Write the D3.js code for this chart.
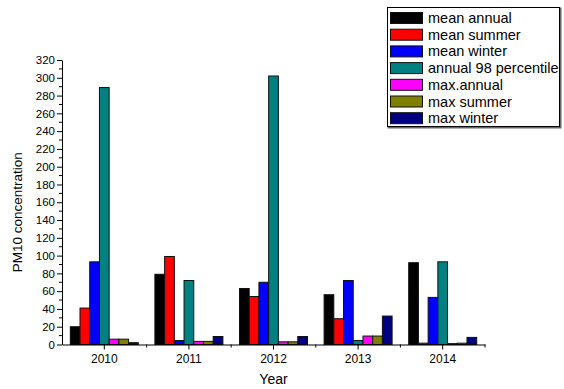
<!DOCTYPE html>
<html>
<head>
<meta charset="utf-8">
<script src="https://cdn.jsdelivr.net/npm/d3@7/dist/d3.min.js"></script>
<style>
  html, body { margin: 0; padding: 0; background: #fff; }
  svg { display: block; font-family: "Liberation Sans", Arial, sans-serif; }
</style>
</head>
<body>
<svg id="chart" width="564" height="389"></svg>
<script>
// PM10 concentration by year, seven statistics per year
const years = ["2010", "2011", "2012", "2013", "2014"];
const seriesNames = ["mean annual", "mean summer", "mean winter", "annual 98 percentile",
                     "max.annual", "max summer", "max winter"];
const seriesColors = ["#000000", "#ff0000", "#0000ff", "#008080", "#ff00ff", "#808000", "#000080"];

const meanAnnual   = [20, 79, 63, 56, 92];
const meanSummer   = [41, 99, 54, 29, 1.5];
const meanWinter   = [93, 4.5, 70, 72, 53];
const annual98     = [289, 72, 302, 4.5, 93];
const maxAnnual    = [6, 3.5, 3, 9.5, 1];
const maxSummer    = [6, 3.5, 3, 9.5, 1.5];
const maxWinter    = [2, 9, 9, 32, 8];

const yTicks = d3.range(0, 321, 20);

const seriesValues = [meanAnnual, meanSummer, meanWinter, annual98, maxAnnual, maxSummer, maxWinter];

const svg = d3.select("#chart");

const plotLeft = 62, plotRight = 485, plotTop = 60, plotBottom = 344.5;

const x = d3.scaleBand().domain(years).range([plotLeft, plotRight]).padding(0);
const inner = d3.scaleBand().domain(seriesNames)
  .range([8.3, x.bandwidth() - 8.3]).padding(0);
const y = d3.scaleLinear().domain([0, 320]).range([plotBottom, plotTop]);

// bars
const groups = svg.append("g").selectAll("g")
  .data(years)
  .join("g")
  .attr("transform", d => `translate(${x(d)},0)`);

groups.selectAll("rect")
  .data((yr, i) => seriesNames.map((s, k) => ({ s, k, v: seriesValues[k][i] })))
  .join("rect")
  .attr("x", d => inner(d.s))
  .attr("width", inner.bandwidth())
  .attr("y", d => y(d.v))
  .attr("height", d => y(0) - y(d.v))
  .attr("fill", d => seriesColors[d.k])
  .attr("stroke", "#111")
  .attr("stroke-width", 1);

// y axis with minor ticks
const yAxis = svg.append("g").attr("transform", `translate(${plotLeft},0)`);
yAxis.call(d3.axisLeft(y).tickValues(yTicks).tickSize(5).tickPadding(2).tickSizeOuter(0))
  .call(g => g.selectAll("text").attr("font-size", 11.5).attr("fill", "#000")
                .attr("font-family", "Liberation Sans, Arial, sans-serif"));
yAxis.selectAll(".minor")
  .data(d3.range(10, 320, 20))
  .join("line")
  .attr("class", "minor")
  .attr("x1", -3).attr("x2", 0)
  .attr("y1", d => y(d)).attr("y2", d => y(d))
  .attr("stroke", "#000");

// x axis: ticks at year centres, minor ticks at group boundaries
const xAxis = svg.append("g").attr("transform", `translate(0,${plotBottom})`);
xAxis.call(d3.axisBottom(x).tickSize(5).tickPadding(5).tickSizeOuter(0))
  .call(g => g.selectAll("text").attr("font-size", 12).attr("fill", "#000")
                .attr("font-family", "Liberation Sans, Arial, sans-serif"));
xAxis.selectAll(".minor")
  .data(years.slice(1).concat(["end"]))
  .join("line")
  .attr("class", "minor")
  .attr("x1", d => d === "end" ? plotRight : x(d))
  .attr("x2", d => d === "end" ? plotRight : x(d))
  .attr("y1", 0).attr("y2", 3)
  .attr("stroke", "#000");

// axis titles
svg.append("text")
  .attr("x", (plotLeft + plotRight) / 2).attr("y", 384)
  .attr("text-anchor", "middle").attr("font-size", 14)
  .text("Year");

svg.append("text")
  .attr("transform", `translate(22,${(plotTop + plotBottom) / 2 + 10}) rotate(-90)`)
  .attr("text-anchor", "middle").attr("font-size", 13.5)
  .text("PM10 concentration");

// legend
const lg = svg.append("g");
lg.append("rect").attr("x", 388.5).attr("y", 8.5).attr("width", 172).attr("height", 119)
  .attr("fill", "none").attr("stroke", "#666").attr("stroke-width", 2);
lg.append("rect").attr("x", 387.5).attr("y", 7.5).attr("width", 172).attr("height", 119)
  .attr("fill", "#fff").attr("stroke", "#000").attr("stroke-width", 1);

const rows = lg.selectAll(".row")
  .data(seriesNames)
  .join("g")
  .attr("class", "row")
  .attr("transform", (d, i) => `translate(0,${12.5 + i * 16.7})`);
rows.append("rect")
  .attr("x", 390.5).attr("y", 0).attr("width", 32).attr("height", 11)
  .attr("fill", (d, i) => seriesColors[i])
  .attr("stroke", "#111").attr("stroke-width", 1);
rows.append("text")
  .attr("x", 428).attr("y", 10.5)
  .attr("font-size", 14.5)
  .text(d => d);
</script>
</body>
</html>
